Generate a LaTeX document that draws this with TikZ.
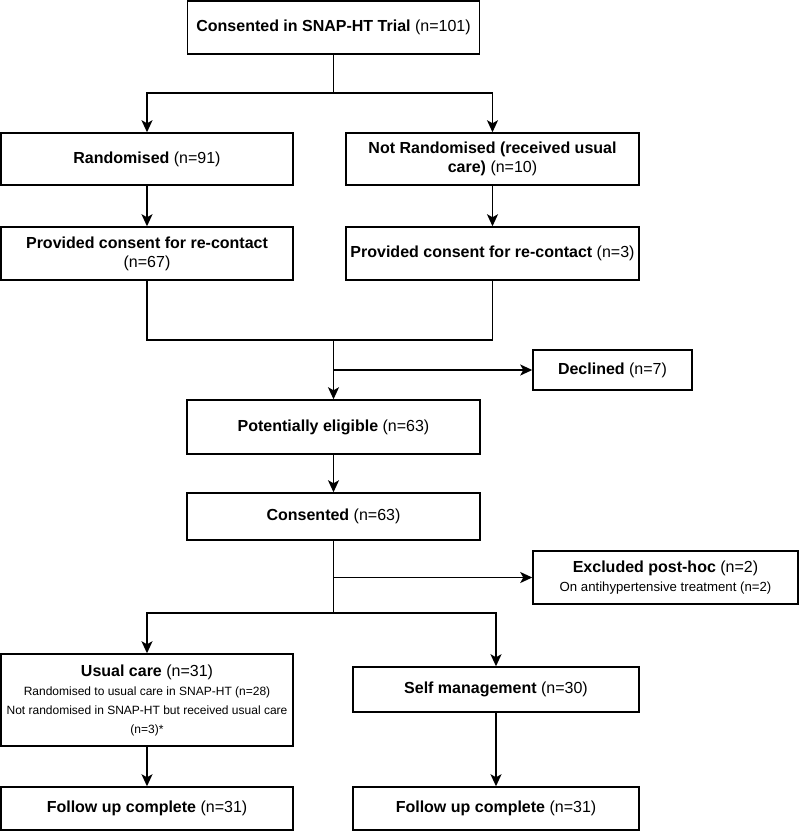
\documentclass[tikz,border=0pt]{standalone}
\usepackage{fontspec}
\setmainfont{Liberation Sans}
\usetikzlibrary{arrows.meta}
\tikzset{
  box/.style={draw, line width=1.5pt, inner sep=0pt, align=center,
    font=\fontsize{16}{19}\selectfont},
  ln/.style={line width=1.5pt},
  arr/.style={ln, -{Stealth[length=12pt,width=11pt,inset=3pt]}}
}
\newcommand{\sm}{\fontsize{12}{19}\selectfont}
\newcommand{\smx}{\fontsize{13.2}{19}\selectfont}
\begin{document}
\begin{tikzpicture}[x=1pt,y=-1pt]
\useasboundingbox (0,0) rectangle (800,831);
\node[box, minimum width=292pt, minimum height=53pt] (top) at (333.5,27.5) {\textbf{Consented in SNAP-HT Trial} (n=101)};
\node[box, minimum width=292pt, minimum height=52pt] (rand) at (147,159) {\textbf{Randomised} (n=91)};
\node[box, minimum width=293pt, minimum height=52pt] (notrand) at (492.5,159) {\textbf{Not Randomised (received usual}\\\textbf{care)} (n=10)};
\node[box, minimum width=292pt, minimum height=53pt] (pc1) at (147,253.5) {\textbf{Provided consent for re-contact}\\(n=67)};
\node[box, minimum width=293pt, minimum height=53pt] (pc2) at (492.5,253.5) {\textbf{Provided consent for re-contact} (n=3)};
\node[box, minimum width=159pt, minimum height=40pt] (declined) at (612.5,370) {\textbf{Declined} (n=7)};
\node[box, minimum width=293pt, minimum height=54pt] (elig) at (333.5,427) {\textbf{Potentially eligible} (n=63)};
\node[box, minimum width=293pt, minimum height=47pt] (cons) at (333.5,516.5) {\textbf{Consented} (n=63)};
\node[box, minimum width=265pt, minimum height=53pt] (excl) at (665.5,577.5) {\textbf{Excluded post-hoc} (n=2)\\{\smx On antihypertensive treatment (n=2)}};
\node[box, minimum width=292pt, minimum height=92pt] (usual) at (147,700) {\textbf{Usual care} (n=31)\\{\sm Randomised to usual care in SNAP-HT (n=28)}\\{\sm Not randomised in SNAP-HT but received usual care}\\{\sm (n=3)*}};
\node[box, minimum width=286pt, minimum height=45pt] (self) at (496,689.5) {\textbf{Self management} (n=30)};
\node[box, minimum width=292pt, minimum height=43pt] (fu1) at (147,808.5) {\textbf{Follow up complete} (n=31)};
\node[box, minimum width=286pt, minimum height=43pt] (fu2) at (496,808.5) {\textbf{Follow up complete} (n=31)};
\coordinate (s1) at (333.5,93);
\coordinate (j1) at (333.5,340);
\coordinate (b1) at (333.5,370);
\coordinate (b2) at (333.5,577.5);
\coordinate (s2) at (333.5,613);
\draw[ln] (top.south) -- (s1);
\draw[arr] (s1) -| (rand.north);
\draw[arr] (s1) -| (notrand.north);
\draw[arr] (rand) -- (pc1);
\draw[arr] (notrand) -- (pc2);
\draw[ln] (pc1.south) |- (j1);
\draw[ln] (pc2.south) |- (j1);
\draw[arr] (j1) -- (elig.north);
\draw[arr] (b1) -- (declined.west);
\draw[arr] (elig) -- (cons);
\draw[ln] (cons.south) -- (s2);
\draw[arr] (b2) -- (excl.west);
\draw[arr] (s2) -| (usual.north);
\draw[arr] (s2) -| (self.north);
\draw[arr] (usual) -- (fu1);
\draw[arr] (self) -- (fu2);
\end{tikzpicture}
\end{document}
